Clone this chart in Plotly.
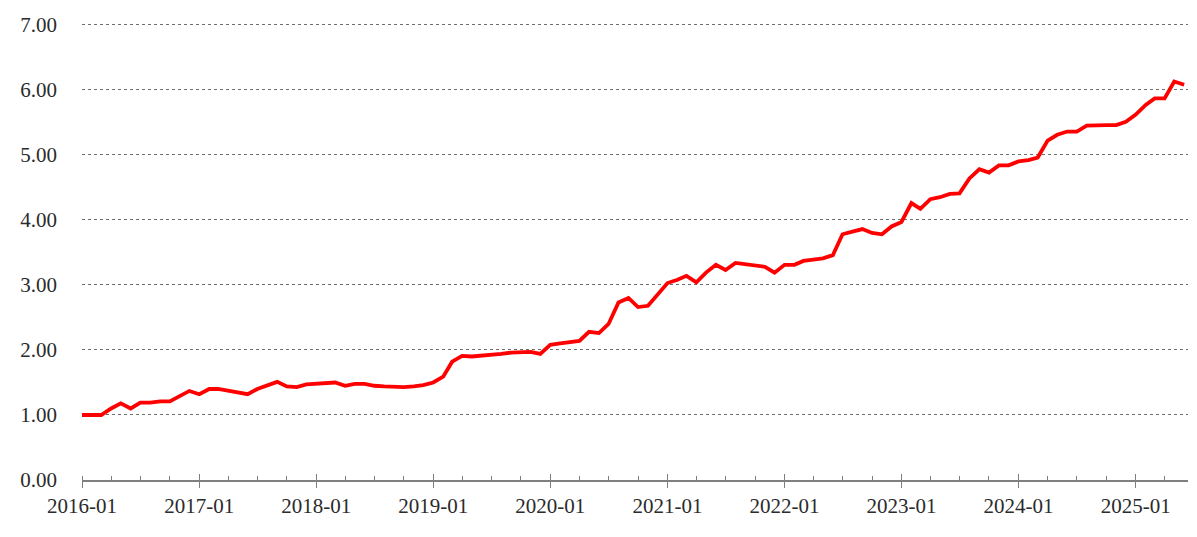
import pandas as pd
import plotly.graph_objects as go

start_month = "2016-01-01"
n_months = 114
values = [
    1.00, 1.00, 1.00,
    1.10, 1.18, 1.10, 1.19, 1.19, 1.21, 1.21, 1.29, 1.37, 1.32, 1.40, 1.40,
    1.37, 1.35, 1.32, 1.40, 1.46, 1.51, 1.44, 1.43, 1.47, 1.48,
    1.50, 1.50, 1.45, 1.48, 1.48, 1.45, 1.44, 1.43, 1.43, 1.44, 1.46, 1.50,
    1.59, 1.82, 1.91, 1.90, 1.91, 1.93, 1.94, 1.96, 1.97, 1.97, 1.94,
    2.08, 2.10, 2.12, 2.14, 2.28, 2.26, 2.40, 2.73, 2.80, 2.66, 2.68, 2.85,
    3.03, 3.08, 3.14, 3.04, 3.19, 3.31, 3.23, 3.34, 3.32, 3.31,
    3.28, 3.19, 3.31, 3.31, 3.37, 3.39, 3.41, 3.46, 3.78, 3.82, 3.86, 3.80,
    3.78, 3.90, 3.97, 4.26, 4.17, 4.32, 4.35, 4.40,
    4.41, 4.64, 4.78, 4.73, 4.84, 4.84, 4.90, 4.92, 4.96, 5.22, 5.31, 5.36,
    5.36, 5.45, 5.46, 5.46, 5.46, 5.51, 5.62, 5.77, 5.87, 5.87, 6.13, 6.08,
]
dates = pd.date_range(start_month, periods=n_months, freq="MS")
y_ticks = [0, 1, 2, 3, 4, 5, 6, 7]

FONT = "Liberation Serif, Times New Roman, serif"
TXT = "#2b2b2b"

fig = go.Figure()
fig.add_trace(go.Scatter(x=dates, y=values, mode="lines",
                         line=dict(color="#ff0000", width=3.8),
                         showlegend=False))
# invisible trace on overlay axis for upward major ticks
fig.add_trace(go.Scatter(x=[dates[0]], y=[0], xaxis="x2", mode="markers",
                         marker=dict(opacity=0), showlegend=False,
                         hoverinfo="skip"))

xr = ["2016-01-01", "2025-06-13"]
# page body has an 8px default margin, so the figure is sized/offset to fit
fig.update_layout(
    width=1189, height=529,
    margin=dict(l=74, r=9, t=15, b=57),
    paper_bgcolor="white", plot_bgcolor="white",
    font=dict(family=FONT, size=21, color=TXT),
    xaxis=dict(
        type="date", range=xr, automargin=False,
        dtick="M12", tick0="2016-01-01", tickformat="%Y-%m",
        ticks="outside", ticklen=6, tickwidth=1.2, tickcolor="#7f7f7f",
        showline=True, linecolor="#7f7f7f", linewidth=1.5,
        showgrid=False, zeroline=False,
        minor=dict(dtick="M3", tick0="2016-01-01", ticks="inside",
                   ticklen=4, tickwidth=1, tickcolor="#7f7f7f", showgrid=False),
        tickfont=dict(family=FONT, size=21, color=TXT),
    ),
    xaxis2=dict(
        type="date", range=xr, overlaying="x", matches="x", side="bottom",
        automargin=False,
        dtick="M12", tick0="2016-01-01", ticks="inside", ticklen=6,
        tickwidth=1.2, tickcolor="#7f7f7f", showticklabels=False,
        showgrid=False, zeroline=False, showline=False,
    ),
    yaxis=dict(
        range=[0, 7.03], tickvals=y_ticks, tickformat=".2f", automargin=False,
        showgrid=True, gridcolor="#6e6e6e", gridwidth=1, griddash="dot",
        zeroline=False, showline=False, ticks="",
        ticklabelstandoff=24,
        tickfont=dict(family=FONT, size=21, color=TXT),
    ),
)
fig.write_html("out.html")
